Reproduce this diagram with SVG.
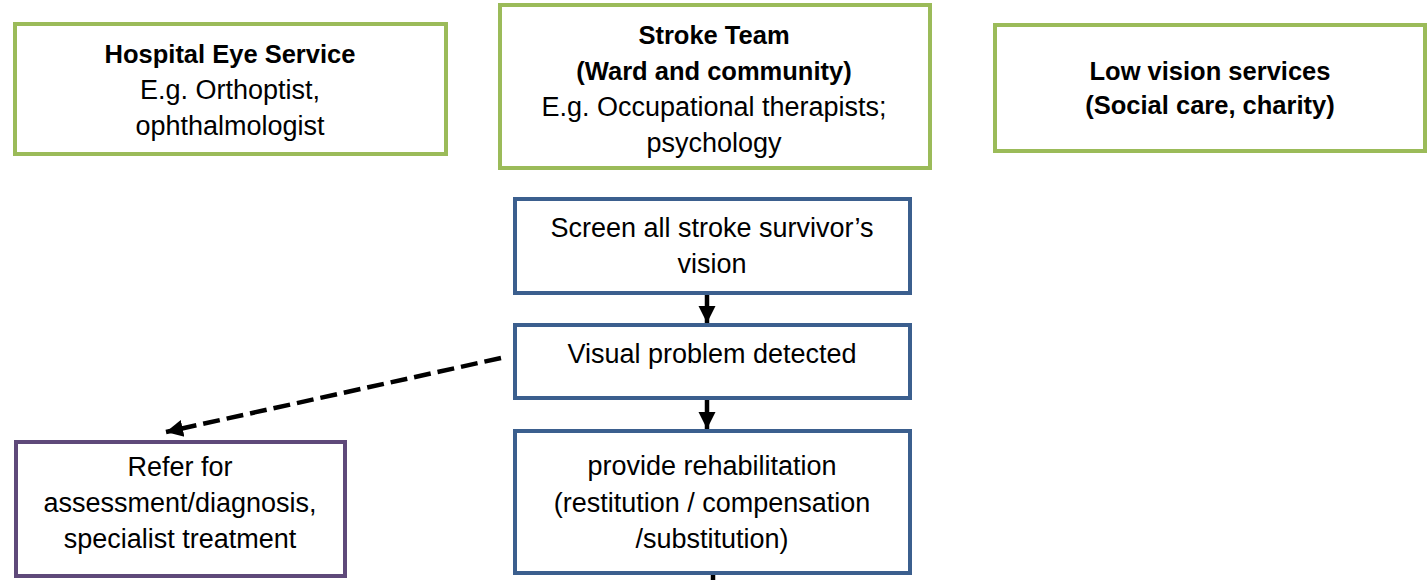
<svg xmlns="http://www.w3.org/2000/svg" width="1427" height="580" viewBox="0 0 1427 580">
<style>
.g{fill:#fff;stroke:#9BBB59;stroke-width:4}
.b{fill:#fff;stroke:#3B5F8E;stroke-width:4}
.p{fill:#fff;stroke:#5F497A;stroke-width:4}
text{font-family:"Liberation Sans",Arial,sans-serif;font-size:27px;fill:#000;text-anchor:middle}
.bd{font-weight:bold;font-size:25.5px}
.c{stroke:#000;stroke-width:4.5;fill:none}
</style>
<defs>
<marker id="ah" markerUnits="userSpaceOnUse" markerWidth="20" markerHeight="20" viewBox="0 0 20 20" refX="17" refY="10" orient="auto">
<path d="M0,1.5 L17,10 L0,18.5 Z" fill="#000"/>
</marker>
</defs>
<g id="hospital-eye-service">
<rect class="g" x="15" y="24" width="431" height="130"/>
<text class="bd" x="230" y="63">Hospital Eye Service</text>
<text x="230" y="99">E.g. Orthoptist,</text>
<text x="230" y="135">ophthalmologist</text>
</g>
<g id="stroke-team">
<rect class="g" x="500" y="5" width="430" height="163"/>
<text class="bd" x="714" y="44">Stroke Team</text>
<text class="bd" x="714" y="80">(Ward and community)</text>
<text x="714" y="116">E.g. Occupational therapists;</text>
<text x="714" y="152">psychology</text>
</g>
<g id="low-vision-services">
<rect class="g" x="995" y="25" width="430" height="126"/>
<text class="bd" x="1210" y="80">Low vision services</text>
<text class="bd" x="1210" y="114">(Social care, charity)</text>
</g>
<g id="screen">
<rect class="b" x="515" y="199" width="395" height="94"/>
<text x="712" y="237">Screen all stroke survivor’s</text>
<text x="712" y="273">vision</text>
</g>
<g id="visual-problem">
<rect class="b" x="515" y="325" width="395" height="73"/>
<text x="712" y="363">Visual problem detected</text>
</g>
<g id="rehabilitation">
<rect class="b" x="515" y="431" width="395" height="142"/>
<text x="712" y="475">provide rehabilitation</text>
<text x="712" y="512">(restitution / compensation</text>
<text x="712" y="548">/substitution)</text>
</g>
<g id="refer">
<rect class="p" x="16" y="442" width="329" height="134"/>
<text x="180" y="476">Refer for</text>
<text x="180" y="512">assessment/diagnosis,</text>
<text x="180" y="548">specialist treatment</text>
</g>
<g id="connectors">
<line class="c" x1="707" y1="295" x2="707" y2="323" marker-end="url(#ah)"/>
<line class="c" x1="707" y1="400" x2="707" y2="429" marker-end="url(#ah)"/>
<line class="c" x1="713" y1="575" x2="713" y2="580"/>
<line class="c" x1="501" y1="358" x2="166" y2="432" stroke-width="6" stroke-dasharray="17 7" marker-end="url(#ah)"/>
</g>
</svg>
